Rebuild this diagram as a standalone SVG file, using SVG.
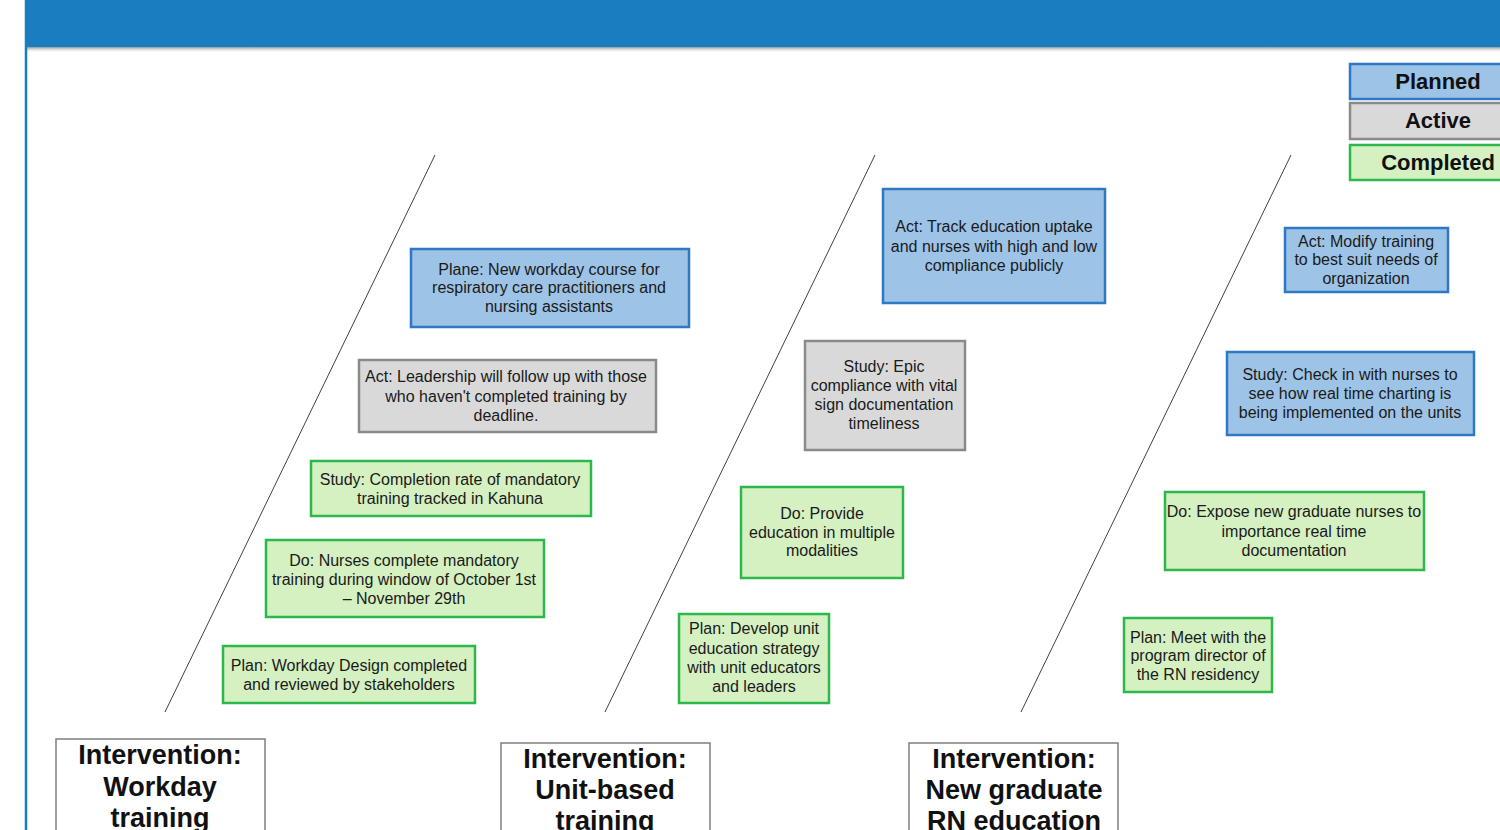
<svg xmlns="http://www.w3.org/2000/svg" width="1500" height="830" viewBox="0 0 1500 830">
<defs>
<linearGradient id="shadow" x1="0" y1="0" x2="0" y2="1">
<stop offset="0" stop-color="#7a7a7a" stop-opacity="0.8"/>
<stop offset="1" stop-color="#ffffff" stop-opacity="0"/>
</linearGradient>
<style>
.t{font-family:"Liberation Sans",Arial,sans-serif;font-size:16px;fill:#1a1a1a;text-anchor:middle}
.h{font-family:"Liberation Sans",Arial,sans-serif;font-size:27px;font-weight:bold;fill:#111;text-anchor:middle}
.lg{font-family:"Liberation Sans",Arial,sans-serif;font-size:22px;font-weight:bold;fill:#111;text-anchor:middle}
.planned{fill:#9dc3e6;stroke:#2f78c4;stroke-width:2.5}
.active{fill:#d9d9d9;stroke:#8a8a8a;stroke-width:2.5}
.done{fill:#d5f0c1;stroke:#2db84c;stroke-width:2.5}
.iv{fill:#fff;stroke:#7f7f7f;stroke-width:1.5}
.bone{stroke:#404040;stroke-width:1;fill:none}
</style>
</defs>
<rect x="0" y="0" width="1500" height="830" fill="#fff"/>
<g id="header">
<rect x="25" y="47" width="1475" height="6" fill="url(#shadow)"/>
<rect x="25" y="0" width="1475" height="47" fill="#1a7dbf"/>
<line x1="26" y1="0" x2="26" y2="830" stroke="#1a7dbf" stroke-width="2.5"/>
</g>
<g id="legend">
<g id="legend-planned"><rect class="planned" x="1350" y="64" width="160" height="35"/><text class="lg" x="1438" y="89">Planned</text></g>
<g id="legend-active"><rect class="active" x="1350" y="103" width="160" height="36"/><text class="lg" x="1438" y="128">Active</text></g>
<g id="legend-completed"><rect class="done" x="1350" y="145" width="160" height="35"/><text class="lg" x="1438" y="170">Completed</text></g>
</g>
<g id="connectors">
<line class="bone" x1="435" y1="155" x2="165" y2="712"/>
<line class="bone" x1="875" y1="155" x2="605" y2="712"/>
<line class="bone" x1="1291" y1="155" x2="1021" y2="712"/>
</g>
<g id="n1-plane">
<rect class="planned" x="411" y="249" width="278" height="78"/>
<text class="t" x="549" y="275">Plane: New workday course for</text>
<text class="t" x="549" y="293">respiratory care practitioners and</text>
<text class="t" x="549" y="312">nursing assistants</text>
</g>
<g id="n1-act">
<rect class="active" x="359" y="360" width="297" height="72"/>
<text class="t" x="506" y="382">Act: Leadership will follow up with those</text>
<text class="t" x="506" y="402">who haven't completed training by</text>
<text class="t" x="506" y="421">deadline.</text>
</g>
<g id="n1-study">
<rect class="done" x="311" y="461" width="280" height="55"/>
<text class="t" x="450" y="485">Study: Completion rate of mandatory</text>
<text class="t" x="450" y="504">training tracked in Kahuna</text>
</g>
<g id="n1-do">
<rect class="done" x="266" y="540" width="278" height="77"/>
<text class="t" x="404" y="566">Do: Nurses complete mandatory</text>
<text class="t" x="404" y="585">training during window of October 1st</text>
<text class="t" x="404" y="604">– November 29th</text>
</g>
<g id="n1-plan">
<rect class="done" x="223" y="646" width="252" height="57"/>
<text class="t" x="349" y="671">Plan: Workday Design completed</text>
<text class="t" x="349" y="690">and reviewed by stakeholders</text>
</g>
<g id="n2-act">
<rect class="planned" x="883" y="189" width="222" height="114"/>
<text class="t" x="994" y="232">Act: Track education uptake</text>
<text class="t" x="994" y="252">and nurses with high and low</text>
<text class="t" x="994" y="271">compliance publicly</text>
</g>
<g id="n2-study">
<rect class="active" x="805" y="341" width="160" height="109"/>
<text class="t" x="884" y="372">Study: Epic</text>
<text class="t" x="884" y="391">compliance with vital</text>
<text class="t" x="884" y="410">sign documentation</text>
<text class="t" x="884" y="429">timeliness</text>
</g>
<g id="n2-do">
<rect class="done" x="741" y="487" width="162" height="91"/>
<text class="t" x="822" y="519">Do: Provide</text>
<text class="t" x="822" y="538">education in multiple</text>
<text class="t" x="822" y="556">modalities</text>
</g>
<g id="n2-plan">
<rect class="done" x="679" y="614" width="150" height="89"/>
<text class="t" x="754" y="634">Plan: Develop unit</text>
<text class="t" x="754" y="654">education strategy</text>
<text class="t" x="754" y="673">with unit educators</text>
<text class="t" x="754" y="692">and leaders</text>
</g>
<g id="n3-act">
<rect class="planned" x="1285" y="228" width="163" height="64"/>
<text class="t" x="1366" y="247">Act: Modify training</text>
<text class="t" x="1366" y="265">to best suit needs of</text>
<text class="t" x="1366" y="284">organization</text>
</g>
<g id="n3-study">
<rect class="planned" x="1227" y="352" width="247" height="83"/>
<text class="t" x="1350" y="380">Study: Check in with nurses to</text>
<text class="t" x="1350" y="399">see how real time charting is</text>
<text class="t" x="1350" y="418">being implemented on the units</text>
</g>
<g id="n3-do">
<rect class="done" x="1165" y="492" width="259" height="78"/>
<text class="t" x="1294" y="517">Do: Expose new graduate nurses to</text>
<text class="t" x="1294" y="537">importance real time</text>
<text class="t" x="1294" y="556">documentation</text>
</g>
<g id="n3-plan">
<rect class="done" x="1124" y="618" width="148" height="74"/>
<text class="t" x="1198" y="643">Plan: Meet with the</text>
<text class="t" x="1198" y="661">program director of</text>
<text class="t" x="1198" y="680">the RN residency</text>
</g>
<g id="iv1">
<rect class="iv" x="56" y="739" width="209" height="100"/>
<text class="h" x="160" y="764">Intervention:</text>
<text class="h" x="160" y="796">Workday</text>
<text class="h" x="160" y="827">training</text>
</g>
<g id="iv2">
<rect class="iv" x="501" y="743" width="209" height="100"/>
<text class="h" x="605" y="768">Intervention:</text>
<text class="h" x="605" y="799">Unit-based</text>
<text class="h" x="605" y="830">training</text>
</g>
<g id="iv3">
<rect class="iv" x="909" y="743" width="209" height="100"/>
<text class="h" x="1014" y="768">Intervention:</text>
<text class="h" x="1014" y="799">New graduate</text>
<text class="h" x="1014" y="830">RN education</text>
</g>
</svg>
